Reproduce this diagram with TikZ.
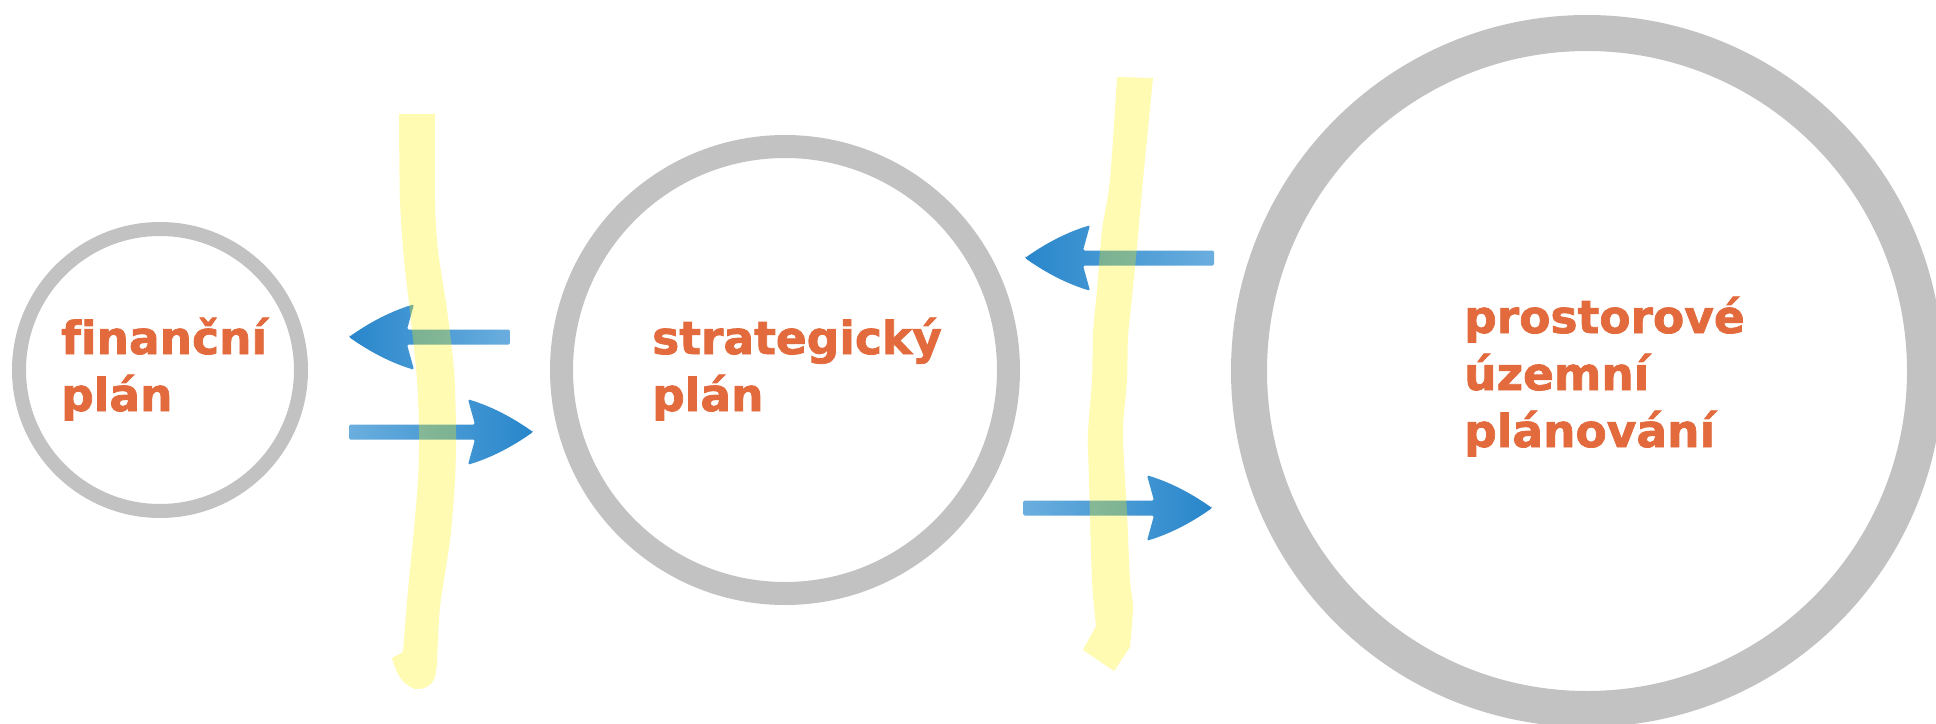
\documentclass[tikz,border=0pt]{standalone}
\usepackage{fontspec}
\newfontfamily\lblfont[Ligatures=NoCommon, BoldFeatures={FakeBold=1.6}]{DejaVu Sans}
\definecolor{ringgray}{RGB}{194,194,194}
\definecolor{lblcol}{RGB}{226,106,60}
\definecolor{adark}{RGB}{40,134,203}
\definecolor{alight}{RGB}{106,174,222}
\tikzset{
  ring/.style={circle, draw=ringgray, inner sep=0pt, outer sep=0pt},
  lbltext/.style={anchor=base west, inner sep=0pt, text=lblcol,
    font=\lblfont\bfseries\fontsize{45.5}{56}\selectfont},
  hlstroke/.style={fill=yellow, fill opacity=0.3},
}
% #1 length, #2 colour on canvas left, #3 colour on canvas right
\newcommand\arrowshape[3]{%
  \shade[left color=#2, right color=#3, rounded corners=1.5pt]
  (0,0) .. controls (-21.7,-15.4) and (-43.3,-26.3) .. (-65,-32.7) -- (-58,-7.5)
  -- (-#1,-7.5) -- (-#1,7.5) -- (-58,7.5) -- (-65,32.7)
  .. controls (-43.3,26.3) and (-21.7,15.4) .. (0,0) -- cycle;}
\begin{document}
\begin{tikzpicture}[x=1pt,y=-1pt]
\useasboundingbox (0,0) rectangle (1936,723);
\clip (0,0) rectangle (1936,723);
\fill[white] (0,0) rectangle (1936,723);
% rings
\node[ring, line width=14pt, minimum size=282pt] (fin) at (160,370) {};
\node[ring, line width=23pt, minimum size=447pt] (str) at (785,370) {};
\node[ring, line width=36pt, minimum size=676pt] (pro) at (1587,371) {};
% labels
\node[lbltext] (fin1) at (61,354) {finanční};
\node[lbltext] (fin2) at (61,411) {plán};
\node[lbltext] (str1) at (652,354) {strategický};
\node[lbltext] (str2) at (652,411) {plán};
\node[lbltext] (pro1) at (1464,333) {prostorové};
\node[lbltext] (pro2) at (1464,390) {územní};
\node[lbltext] (pro3) at (1464,447) {plánování};
% arrow anchors
\coordinate (a1tip) at (349,337);
\coordinate (a2tip) at (533,432);
\coordinate (a3tip) at (1025,258);
\coordinate (a4tip) at (1212,508);
% arrows
\begin{scope}[shift={(a1tip)}, xscale=-1]\arrowshape{161}{adark}{alight}\end{scope}
\begin{scope}[shift={(a2tip)}]\arrowshape{184}{alight}{adark}\end{scope}
\begin{scope}[shift={(a3tip)}, xscale=-1]\arrowshape{189}{adark}{alight}\end{scope}
\begin{scope}[shift={(a4tip)}]\arrowshape{189}{alight}{adark}\end{scope}
% highlighter strokes
\fill[hlstroke] plot[smooth] coordinates {(399,114) (400,200) (404,260) (411,320) (417,380) (419,430) (418,480) (413,540) (408,590) (403,652)}
  -- (392,658) .. controls (396,672) and (401,684) .. (415,689)
  .. controls (428,690) and (436,682) .. (436,670)
  -- plot[smooth] coordinates {(437,665) (440,607) (450,540) (455,480) (456,430) (454,370) (447,310) (438,250) (435,200) (435,114)} -- cycle;
\fill[hlstroke] plot[smooth] coordinates {(1117,77) (1110,180) (1102,230) (1097,290) (1093,333) (1092,380) (1088,433) (1089,480) (1092,580) (1096,626)}
  -- (1083,650) -- (1114,671)
  -- plot[smooth] coordinates {(1130,647) (1133,607) (1130,580) (1127,513) (1123,433) (1127,380) (1128,337) (1132,297) (1137,247) (1143,180) (1153,78)} -- cycle;
\end{tikzpicture}
\end{document}
